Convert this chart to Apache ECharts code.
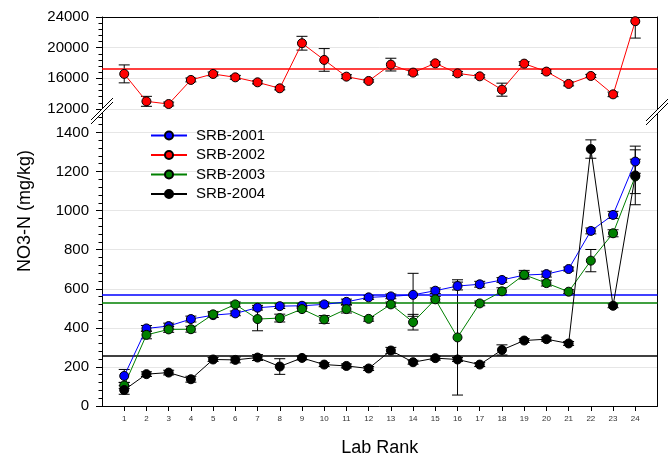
<!DOCTYPE html>
<html>
<head>
<meta charset="utf-8">
<script src="https://cdn.jsdelivr.net/npm/echarts@6/dist/echarts.min.js"></script>
<style>
html,body{margin:0;padding:0;background:#fff;}
#c{width:672px;height:455px;}
</style>
</head>
<body>
<div id="c"></div>
<script>
// ---- data ----
var labRanks = [1,2,3,4,5,6,7,8,9,10,11,12,13,14,15,16,17,18,19,20,21,22,23,24];
var xTickLabels = [1,2,3,4,5,6,7,8,9,10,11,12,13,14,15,16,17,18,19,20,21,22,23,24];
var seriesNames = ['SRB-2001','SRB-2002','SRB-2003','SRB-2004'];
var srb2001 = [154,397,409,445,465,474,503,511,513,520,533,556,561,569,590,614,623,645,670,675,701,896,978,1251];
var srb2002 = [16580,13000,12650,15790,16570,16130,15480,14700,20580,18400,16220,15660,17790,16750,17960,16650,16260,14520,17920,16880,15270,16310,13910,23450];
var srb2003 = [105,364,392,393,469,520,445,450,496,443,496,446,520,429,546,351,525,587,672,629,585,744,884,1175];
var srb2004 = [82,163,171,137,238,236,248,202,246,212,205,192,284,224,245,238,212,287,335,342,320,1315,513,1180];
// error bar half-widths
var err2001 = [33,15,15,15,12,12,12,12,12,12,14,10,12,110,14,20,15,12,15,15,10,15,18,60];
var err2002 = [1170,650,250,250,250,250,200,200,900,1480,250,150,830,300,200,250,200,850,250,250,250,200,300,2200];
var err2003 = [15,20,15,15,15,12,60,20,12,20,20,12,12,40,15,295,12,18,22,15,10,57,18,88];
var err2004 = [22,12,12,15,10,15,15,40,10,10,10,10,16,10,10,10,10,26,10,10,10,47,10,150];
// consensus (mean) lines
var mean2001 = 571, mean2002 = 17300, mean2003 = 530, mean2004 = 258;
var topTicks = {min:12000, max:24000, interval:4000};
var botTicks = {min:0, max:1520, interval:200, minor:40};

var colors = ['#0000ff','#ff0000','#008000','#000000'];
var FONT = 'Liberation Sans, Arial, Helvetica, sans-serif';

function pts(vals){ return labRanks.map(function(r,i){ return [r, vals[i]]; }); }
function errs(vals, e){ return labRanks.map(function(r,i){ return [r, vals[i]-e[i], vals[i]+e[i]]; }); }

function errRender(params, api){
  var x = api.value(0), lo = api.value(1), hi = api.value(2);
  var cs = params.coordSys;
  var p1 = api.coord([x, hi]), p2 = api.coord([x, lo]);
  var w = 5.5;
  var ch = [];
  var topClipped = p1[1] < cs.y, botClipped = p2[1] > cs.y + cs.height;
  var y1 = Math.max(p1[1], cs.y), y2 = Math.min(p2[1], cs.y + cs.height);
  var st = {stroke:'#000', lineWidth:1};
  ch.push({type:'line', shape:{x1:p1[0], y1:y1, x2:p2[0], y2:y2}, style:st});
  if(!topClipped) ch.push({type:'line', shape:{x1:p1[0]-w, y1:p1[1], x2:p1[0]+w, y2:p1[1]}, style:st});
  if(!botClipped) ch.push({type:'line', shape:{x1:p2[0]-w, y1:p2[1], x2:p2[0]+w, y2:p2[1]}, style:st});
  return {type:'group', children:ch};
}

function lineSeries(name, vals, color, gi, yi, mean){
  return {
    name:name, type:'line', xAxisIndex:gi, yAxisIndex:yi, data:pts(vals),
    symbol:'circle', symbolSize:9, z:5,
    lineStyle:{color:color, width:1},
    itemStyle:{color:color, borderColor:'#000', borderWidth:1},
    emphasis:{disabled:true}, animation:false,
    markLine:{symbol:'none', silent:true, label:{show:false}, animation:false,
      lineStyle:{color:color, width:1.5, type:'solid'}, data:[{yAxis:mean}]}
  };
}
function errSeries(vals, e, gi, yi){
  return {type:'custom', xAxisIndex:gi, yAxisIndex:yi, data:errs(vals,e), renderItem:errRender, z:3, silent:true, animation:false,
    encode:{x:0, y:[1,2]}};
}
function plain(v){ return String(v); }

var chart = echarts.init(document.getElementById('c'), null, {renderer:'canvas'});
var gridL = 102, gridR = 14.5;
var option = {
  animation:false,
  backgroundColor:'#fff',
  textStyle:{fontFamily:FONT},
  grid:[
    {left:gridL, right:gridR, top:17, height:92, containLabel:false, outerBoundsMode:'none'},
    {left:gridL, right:gridR, top:109, height:297, containLabel:false, outerBoundsMode:'none'}
  ],
  legend:{
    data:seriesNames, orient:'vertical', left:145, top:123,
    itemWidth:36, itemHeight:10, itemGap:4.5,
    textStyle:{fontSize:15, color:'#000', fontFamily:FONT, padding:[0,0,0,4]},
    selectedMode:false
  },
  xAxis:[
    {gridIndex:0, type:'value', min:0, max:25, position:'top',
      axisLine:{show:true, lineStyle:{color:'#000', width:1}}, axisTick:{show:false}, axisLabel:{show:false}, splitLine:{show:false}},
    {gridIndex:1, type:'value', min:0, max:25, interval:1, position:'bottom',
      name:'Lab Rank', nameLocation:'middle', nameGap:33, nameTextStyle:{fontSize:18, color:'#000', fontFamily:FONT},
      axisLine:{show:true, onZero:false, lineStyle:{color:'#000', width:1}},
      axisTick:{show:true, length:5, lineStyle:{color:'#000'}, customValues:xTickLabels},
      axisLabel:{show:true, fontSize:8, color:'#333', margin:9, customValues:xTickLabels,
        formatter:function(v){ return (v>=1 && v<=24) ? String(v) : ''; }},
      splitLine:{show:false}}
  ],
  yAxis:[
    {gridIndex:0, type:'value', min:topTicks.min, max:topTicks.max, interval:topTicks.interval, position:'left',
      axisLine:{show:true, lineStyle:{color:'#000', width:1}},
      axisTick:{show:true, length:6, lineStyle:{color:'#000'}},
      minorTick:{show:true, splitNumber:5, length:3.5, lineStyle:{color:'#000'}},
      axisLabel:{fontSize:15, color:'#000', margin:13, formatter:plain},
      splitLine:{show:true, lineStyle:{color:'#e6e6e6', width:1}}},
    {gridIndex:0, type:'value', min:topTicks.min, max:topTicks.max, position:'right',
      axisLine:{show:true, lineStyle:{color:'#000', width:1}}, axisTick:{show:false}, axisLabel:{show:false}, splitLine:{show:false}},
    {gridIndex:1, type:'value', min:botTicks.min, max:botTicks.max, interval:botTicks.interval, position:'left',
      axisLine:{show:true, lineStyle:{color:'#000', width:1}},
      axisTick:{show:true, length:6, lineStyle:{color:'#000'}},
      axisLabel:{fontSize:15, color:'#000', margin:13, showMaxLabel:false, formatter:plain},
      splitLine:{show:true, lineStyle:{color:'#e6e6e6', width:1}}},
    {gridIndex:1, type:'value', min:botTicks.min, max:botTicks.max, interval:botTicks.minor, position:'left',
      axisLine:{show:false}, axisTick:{show:true, length:3.5, lineStyle:{color:'#000'}}, axisLabel:{show:false}, splitLine:{show:false}},
    {gridIndex:1, type:'value', min:botTicks.min, max:botTicks.max, position:'right',
      axisLine:{show:true, lineStyle:{color:'#000', width:1}}, axisTick:{show:false}, axisLabel:{show:false}, splitLine:{show:false}}
  ],
  series:[
    errSeries(srb2001, err2001, 1, 2),
    errSeries(srb2002, err2002, 0, 0),
    errSeries(srb2003, err2003, 1, 2),
    errSeries(srb2004, err2004, 1, 2),
    lineSeries(seriesNames[0], srb2001, colors[0], 1, 2, mean2001),
    lineSeries(seriesNames[1], srb2002, colors[1], 0, 0, mean2002),
    lineSeries(seriesNames[2], srb2003, colors[2], 1, 2, mean2003),
    lineSeries(seriesNames[3], srb2004, colors[3], 1, 2, mean2004)
  ],
  graphic:[
    {type:'text', x:25, y:211, rotation:Math.PI/2, z:10,
      style:{text:'NO3-N (mg/kg)', font:'18px ' + FONT, fill:'#000', align:'center', verticalAlign:'middle', textAlign:'center', textVerticalAlign:'middle'}},
    // axis break marks
    {type:'polygon', z:20, shape:{points:[[91,120],[113,98],[113,102],[91,124]]}, style:{fill:'#fff', stroke:null}},
    {type:'line', z:21, shape:{x1:91,y1:120,x2:113,y2:98}, style:{stroke:'#000', lineWidth:1}},
    {type:'line', z:21, shape:{x1:91,y1:124,x2:113,y2:102}, style:{stroke:'#000', lineWidth:1}},
    {type:'polygon', z:20, shape:{points:[[646,121],[668,99],[668,103],[646,125]]}, style:{fill:'#fff', stroke:null}},
    {type:'line', z:21, shape:{x1:646,y1:121,x2:668,y2:99}, style:{stroke:'#000', lineWidth:1}},
    {type:'line', z:21, shape:{x1:646,y1:125,x2:668,y2:103}, style:{stroke:'#000', lineWidth:1}}
  ]
};
chart.setOption(option);
</script>
</body>
</html>
